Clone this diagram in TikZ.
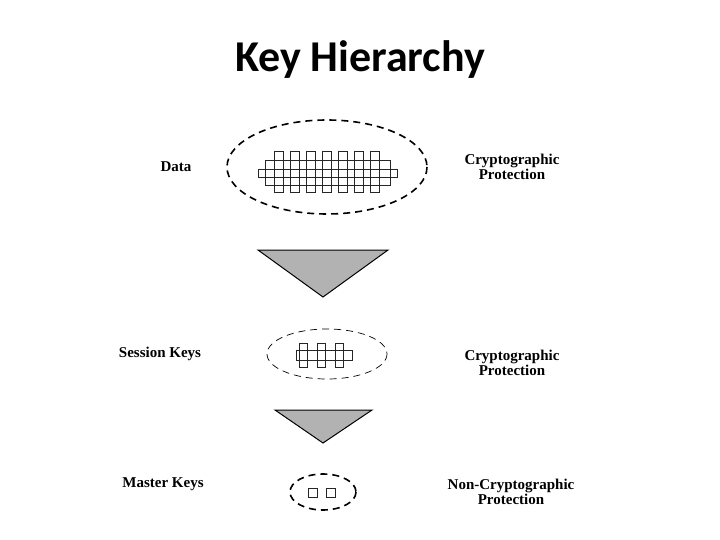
\documentclass[tikz,border=0pt]{standalone}
\usepackage{fontspec}
\setmainfont{Liberation Serif}
\newfontfamily\titlefont{Carlito}
\usetikzlibrary{positioning}
\tikzset{Label/.style={font=\bfseries\fontsize{15}{15}\selectfont, align=center, inner sep=0pt},
  Shell/.style={draw=black, dash pattern=on 7pt off 5pt, line width=1.6pt},
  Funnel/.style={draw=black, fill=black!30, line width=1pt},
  Strand/.style={draw=black!85, line width=0.7pt}
}
\begin{document}
\begin{tikzpicture}[x=1pt,y=-1pt]
\useasboundingbox (0,0) rectangle (720,540);
\node[font=\titlefont\bfseries\fontsize{44}{44}\selectfont] (title) at (360,60) {Key Hierarchy};
% data level
\node[Label] (data) at (176,167) {Data};
\node[Label] (prot1) at (512,167) {Cryptographic\\Protection};
\draw[Shell] (327,167) ellipse [x radius=100, y radius=47];
\draw[Strand] (258,169) rectangle (397,177);
\draw[Strand] (265,160) rectangle (390,185);
\foreach \i in {0,...,6}
  \draw[Strand] (274+16*\i,151) rectangle (283+16*\i,192);
\draw[Funnel] (258,250) -- (388,250) -- (323,297) -- cycle;
% session keys
\node[Label] (session) at (160,354) {Session Keys};
\node[Label] (prot2) at (512,363) {Cryptographic\\Protection};
\draw[Shell, line width=0.7pt] (327,354) ellipse [x radius=60, y radius=25];
\draw[Strand] (296,350) rectangle (352,360);
\foreach \i in {0,1,2}
  \draw[Strand] (299+18*\i,343) rectangle (307+18*\i,367);
\draw[Funnel] (275,410) -- (372,410) -- (323,443) -- cycle;
% master keys
\node[Label] (master) at (163,484) {Master Keys};
\node[Label] (prot3) at (511,492) {Non-Cryptographic\\Protection};
\draw[Shell] (323,492) ellipse [x radius=33, y radius=18];
\draw[Strand] (308,488) rectangle (317,497);
\draw[Strand] (326,488) rectangle (335,497);
\end{tikzpicture}
\end{document}
